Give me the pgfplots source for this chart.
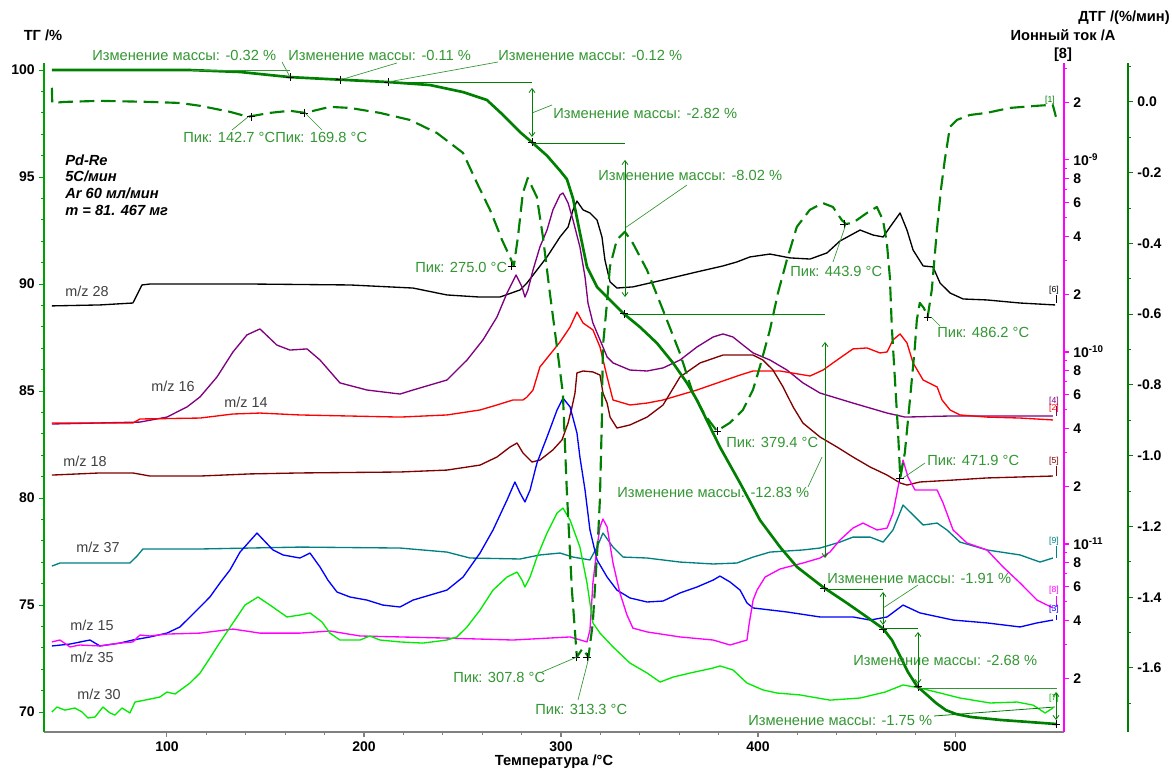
\documentclass[border=0pt]{standalone}
\usepackage{fontspec}
\setmainfont{Liberation Sans}
\usepackage{pgfplots}
\pgfplotsset{compat=1.18}
\usetikzlibrary{arrows.meta}
\definecolor{dg}{RGB}{0,128,0}
\definecolor{axg}{RGB}{0,160,0}
\definecolor{ag}{RGB}{50,150,50}
\definecolor{mzpurple}{RGB}{128,0,128}
\definecolor{mzred}{RGB}{255,0,0}
\definecolor{mzmaroon}{RGB}{128,0,0}
\definecolor{mzteal}{RGB}{0,128,128}
\definecolor{mzblue}{RGB}{0,0,255}
\definecolor{mzmag}{RGB}{255,0,255}
\definecolor{mzlime}{RGB}{0,235,0}
\definecolor{lblgray}{RGB}{64,64,64}
\newcommand{\annf}{\fontsize{11pt}{13pt}\selectfont}
\newcommand{\tickf}{\fontsize{10.5pt}{12pt}\selectfont\bfseries}
\newcommand{\smallf}{\fontsize{6.5pt}{7.5pt}\selectfont}
\pgfplotsset{
  base/.style={at={(33pt,29.25pt)}, anchor=south west, scale only axis,
    height=501.75pt, xmin=37.6, clip=false,
    /pgf/number format/assume math mode=true,
    tick label style={font=\tickf},
    tick align=outside, major tick length=3.5pt, minor tick length=2.2pt},
  ion/.style={line width=1pt, line join=round},
}
\tikzset{
  lead/.style={draw=ag, line width=0.5pt},
  lev/.style={draw=dg, line width=0.6pt},
  dar/.style={draw=dg, line width=0.6pt, arrows={Straight Barb[length=3pt,width=4.5pt]-Straight Barb[length=3pt,width=4.5pt]}},
  ann/.style={anchor=west, inner sep=0pt, text=ag, font=\annf},
}
\begin{document}
\begin{tikzpicture}
\useasboundingbox (0,0) rectangle (879pt,578.25pt);

% x axis
\begin{axis}[base, width=765pt, xmax=555.3, ymin=0, ymax=1, hide y axis,
  axis x line*=bottom, x axis line style={-, draw=gray, line width=1pt},
  tick style={gray, line width=0.8pt},
  xtick={100,200,300,400,500}, minor x tick num=4]
\end{axis}

% ion current axis (log10 of current in A)
\begin{axis}[base, width=765pt, xmax=555.3, ymin=-11.979, ymax=-8.495, hide x axis,
  axis y line*=right, y axis line style={-, draw=mzmag, line width=1pt},
  tick style={mzmag, line width=0.8pt},
  ytick={-11.699,-11.398,-11.222,-11.097,-11,-10.699,-10.398,-10.222,-10.097,-10,-9.699,-9.398,-9.222,-9.097,-9,-8.699},
  yticklabels={2,4,6,8,{10\textsuperscript{-11}},2,4,6,8,{10\textsuperscript{-10}},2,4,6,8,{10\textsuperscript{-9}},2},
  minor ytick={-11.523,-11.301,-11.155,-11.046,-10.523,-10.301,-10.155,-10.046,-9.523,-9.301,-9.155,-9.046,-8.523}]
% m/z 28
\addplot[ion, black] coordinates {(41.6,-9.760) (66.0,-9.755) (82.7,-9.745) (84.8,-9.703) (87.3,-9.651) (91.4,-9.646) (142.1,-9.646) (192.9,-9.651) (224.9,-9.667) (242.1,-9.703) (258.9,-9.714) (269.0,-9.714) (279.2,-9.677) (282.7,-9.641) (287.8,-9.573) (292.9,-9.505) (299.5,-9.401) (303.6,-9.349) (306.1,-9.260) (308.1,-9.214) (311.2,-9.260) (314.7,-9.276) (318.3,-9.313) (320.8,-9.401) (322.3,-9.521) (324.9,-9.635) (328.4,-9.667) (336.5,-9.661) (351.8,-9.625) (369.0,-9.583) (382.2,-9.552) (389.3,-9.531) (395.9,-9.505) (406.1,-9.490) (416.2,-9.510) (426.4,-9.516) (435.0,-9.484) (441.6,-9.422) (451.8,-9.365) (458.4,-9.391) (463.5,-9.401) (467.0,-9.349) (472.1,-9.276) (475.6,-9.365) (478.7,-9.469) (483.8,-9.552) (488.8,-9.557) (492.4,-9.641) (497.5,-9.693) (504.1,-9.724) (516.2,-9.729) (533.0,-9.745) (550.8,-9.755)};
% m/z 16
\addplot[ion, mzpurple] coordinates {(41.6,-10.375) (86.3,-10.365) (100.0,-10.339) (110.2,-10.286) (116.8,-10.234) (125.4,-10.130) (133.5,-10.000) (140.6,-9.911) (147.2,-9.880) (155.8,-9.964) (162.4,-9.990) (171.1,-9.984) (177.7,-10.042) (187.8,-10.161) (201.5,-10.198) (218.3,-10.219) (224.9,-10.198) (242.1,-10.146) (252.3,-10.042) (260.4,-9.937) (267.5,-9.818) (272.6,-9.693) (277.2,-9.599) (280.2,-9.661) (281.7,-9.714) (283.2,-9.677) (285.8,-9.573) (289.3,-9.453) (292.9,-9.365) (295.9,-9.260) (299.5,-9.182) (301.0,-9.172) (303.6,-9.224) (306.1,-9.313) (309.6,-9.453) (312.2,-9.609) (313.7,-9.745) (316.2,-9.849) (319.8,-9.937) (323.4,-10.026) (326.4,-10.057) (335.0,-10.094) (343.7,-10.099) (351.8,-10.083) (360.4,-10.042) (369.0,-9.974) (377.2,-9.922) (382.2,-9.906) (387.3,-9.922) (392.4,-9.964) (397.5,-10.005) (406.1,-10.042) (414.7,-10.094) (422.8,-10.161) (431.5,-10.214) (448.2,-10.266) (465.5,-10.318) (474.6,-10.339) (499.0,-10.333) (549.7,-10.333)};
% m/z 14
\addplot[ion, mzred] coordinates {(41.6,-10.370) (82.7,-10.370) (86.3,-10.349) (116.8,-10.344) (133.5,-10.323) (147.2,-10.318) (167.5,-10.328) (218.3,-10.339) (242.1,-10.328) (258.9,-10.302) (267.5,-10.276) (275.6,-10.250) (280.7,-10.250) (282.7,-10.235) (285.8,-10.198) (289.3,-10.078) (299.5,-9.948) (304.6,-9.870) (308.1,-9.792) (311.2,-9.849) (316.2,-9.885) (319.8,-9.974) (323.4,-10.130) (326.4,-10.250) (335.0,-10.276) (343.7,-10.266) (351.8,-10.250) (369.0,-10.198) (390.9,-10.120) (397.5,-10.099) (411.2,-10.099) (426.4,-10.125) (433.0,-10.094) (440.1,-10.042) (448.2,-9.984) (455.3,-9.979) (461.9,-10.005) (465.5,-10.000) (468.5,-9.937) (472.1,-9.906) (475.6,-9.953) (478.7,-10.057) (483.8,-10.146) (490.9,-10.182) (493.4,-10.250) (497.5,-10.302) (502.5,-10.328) (516.2,-10.339) (533.0,-10.344) (549.7,-10.354)};
% m/z 18
\addplot[ion, mzmaroon] coordinates {(41.6,-10.641) (66.0,-10.630) (82.7,-10.630) (91.4,-10.646) (116.8,-10.646) (142.1,-10.635) (167.5,-10.630) (218.3,-10.625) (242.1,-10.615) (258.9,-10.589) (267.5,-10.547) (274.1,-10.495) (277.7,-10.474) (280.7,-10.526) (285.3,-10.573) (289.3,-10.563) (295.9,-10.510) (300.5,-10.458) (303.6,-10.370) (305.6,-10.286) (307.1,-10.214) (308.1,-10.109) (311.2,-10.099) (316.2,-10.104) (319.8,-10.120) (321.3,-10.214) (323.4,-10.266) (324.9,-10.339) (328.4,-10.396) (335.0,-10.380) (343.7,-10.339) (351.8,-10.276) (360.4,-10.130) (370.6,-10.057) (382.2,-10.016) (397.5,-10.016) (402.5,-10.042) (407.6,-10.094) (412.7,-10.182) (417.8,-10.286) (422.8,-10.370) (431.5,-10.443) (440.1,-10.495) (448.2,-10.547) (456.9,-10.599) (465.5,-10.641) (472.1,-10.682) (475.6,-10.693) (482.2,-10.677) (499.0,-10.667) (516.2,-10.656) (533.0,-10.651) (549.7,-10.646)};
% m/z 37
\addplot[ion, mzteal] coordinates {(41.6,-11.115) (45.7,-11.099) (81.2,-11.099) (84.8,-11.063) (87.8,-11.026) (116.8,-11.026) (167.5,-11.016) (218.3,-11.021) (242.1,-11.042) (253.8,-11.073) (279.2,-11.078) (289.3,-11.057) (299.5,-11.047) (306.1,-11.068) (314.7,-11.083) (318.3,-11.016) (321.3,-10.943) (326.4,-11.016) (331.5,-11.068) (343.7,-11.073) (360.4,-11.094) (377.2,-11.104) (389.3,-11.099) (397.5,-11.068) (406.1,-11.042) (422.8,-11.031) (431.5,-11.021) (441.6,-10.990) (448.2,-10.964) (456.9,-10.964) (463.5,-10.990) (468.5,-10.927) (473.6,-10.797) (478.7,-10.849) (483.8,-10.901) (490.9,-10.891) (495.9,-10.927) (502.5,-10.990) (516.2,-11.031) (533.0,-11.057) (543.1,-11.094) (549.7,-11.073)};
% m/z 15
\addplot[ion, mzblue] coordinates {(41.6,-11.531) (50.8,-11.521) (60.9,-11.500) (66.0,-11.531) (76.1,-11.516) (82.7,-11.500) (91.4,-11.484) (100.0,-11.464) (106.6,-11.432) (111.7,-11.380) (116.8,-11.328) (121.8,-11.276) (126.9,-11.203) (132.0,-11.135) (137.1,-11.042) (145.7,-10.943) (153.8,-11.031) (158.9,-11.057) (167.5,-11.073) (172.6,-11.047) (177.7,-11.120) (181.7,-11.188) (186.3,-11.250) (192.9,-11.276) (201.5,-11.292) (209.6,-11.318) (218.3,-11.328) (224.9,-11.292) (242.1,-11.240) (250.3,-11.172) (258.9,-11.047) (265.5,-10.927) (272.6,-10.771) (276.6,-10.677) (279.2,-10.734) (281.7,-10.781) (284.3,-10.719) (287.8,-10.578) (292.9,-10.443) (298.0,-10.302) (301.0,-10.240) (304.6,-10.286) (308.1,-10.422) (309.6,-10.547) (312.2,-10.719) (314.7,-10.927) (318.3,-11.083) (323.4,-11.172) (328.4,-11.240) (335.0,-11.281) (343.7,-11.302) (351.8,-11.297) (360.4,-11.255) (369.0,-11.224) (377.2,-11.188) (380.7,-11.167) (385.8,-11.198) (390.9,-11.240) (394.4,-11.307) (397.5,-11.333) (414.7,-11.354) (431.5,-11.380) (448.2,-11.380) (456.9,-11.396) (465.5,-11.380) (473.6,-11.318) (482.2,-11.359) (499.0,-11.396) (516.2,-11.411) (533.0,-11.432) (541.6,-11.411) (549.7,-11.396)};
% m/z 35
\addplot[ion, mzmag] coordinates {(41.6,-11.510) (45.7,-11.500) (50.8,-11.536) (55.8,-11.526) (66.0,-11.531) (76.1,-11.516) (82.7,-11.510) (86.3,-11.474) (91.4,-11.479) (100.0,-11.469) (116.8,-11.464) (133.5,-11.443) (147.2,-11.464) (167.5,-11.464) (182.7,-11.453) (198.0,-11.479) (218.3,-11.484) (242.1,-11.490) (275.6,-11.500) (304.6,-11.484) (313.2,-11.510) (314.7,-11.448) (316.2,-11.203) (318.3,-11.016) (319.8,-10.911) (321.3,-10.870) (323.4,-10.911) (326.4,-11.099) (329.9,-11.255) (333.5,-11.370) (336.5,-11.438) (343.7,-11.458) (360.4,-11.484) (377.2,-11.500) (385.8,-11.526) (394.4,-11.500) (395.4,-11.422) (397.5,-11.292) (399.5,-11.240) (403.6,-11.172) (411.2,-11.130) (422.8,-11.099) (431.5,-11.073) (436.5,-11.042) (441.6,-10.979) (448.2,-10.917) (453.3,-10.891) (460.4,-10.927) (465.5,-10.917) (468.5,-10.839) (471.1,-10.703) (473.6,-10.563) (476.1,-10.651) (479.7,-10.719) (490.9,-10.719) (493.9,-10.786) (499.0,-10.927) (506.1,-10.995) (516.2,-11.031) (524.4,-11.120) (533.0,-11.203) (541.6,-11.292) (549.7,-11.333)};
% m/z 30
\addplot[ion, mzlime] coordinates {(41.6,-11.875) (44.2,-11.849) (48.2,-11.865) (53.3,-11.854) (56.9,-11.875) (59.9,-11.906) (63.5,-11.901) (67.5,-11.849) (71.1,-11.880) (73.6,-11.891) (77.2,-11.854) (81.2,-11.880) (83.8,-11.823) (88.8,-11.813) (96.4,-11.797) (100.0,-11.771) (104.1,-11.781) (111.7,-11.724) (116.8,-11.672) (121.8,-11.594) (125.4,-11.536) (129.4,-11.474) (134.5,-11.396) (139.6,-11.318) (146.2,-11.276) (152.3,-11.318) (160.9,-11.380) (167.5,-11.370) (172.6,-11.359) (178.7,-11.406) (182.7,-11.464) (187.8,-11.500) (198.0,-11.500) (203.0,-11.479) (208.1,-11.500) (218.3,-11.510) (229.9,-11.516) (242.1,-11.500) (247.2,-11.484) (252.3,-11.432) (258.9,-11.344) (265.5,-11.240) (272.6,-11.172) (277.7,-11.146) (280.2,-11.188) (281.7,-11.224) (284.3,-11.172) (287.8,-11.068) (292.9,-10.943) (298.0,-10.839) (301.0,-10.813) (304.6,-10.875) (309.6,-11.016) (313.2,-11.203) (316.2,-11.411) (319.8,-11.464) (326.4,-11.536) (335.0,-11.620) (343.7,-11.672) (350.3,-11.719) (356.9,-11.693) (365.5,-11.672) (377.2,-11.646) (380.7,-11.635) (387.3,-11.656) (394.4,-11.724) (402.5,-11.760) (409.6,-11.776) (421.3,-11.786) (436.5,-11.813) (451.8,-11.802) (464.5,-11.771) (473.6,-11.734) (482.2,-11.750) (492.4,-11.776) (502.5,-11.802) (517.8,-11.828) (531.5,-11.823) (539.6,-11.839) (545.7,-11.880) (549.7,-11.854)};
\end{axis}

% DTG axis
\begin{axis}[base, width=813pt, xmax=587.9, ymin=-1.781, ymax=0.110, hide x axis,
  axis y line*=right, y axis line style={-, draw=dg, line width=1pt},
  tick style={dg, line width=0.8pt},
  ytick={-1.6,-1.4,-1.2,-1.0,-0.8,-0.6,-0.4,-0.2,0},
  yticklabels={-1.6,-1.4,-1.2,-1.0,-0.8,-0.6,-0.4,-0.2,0.0},
  minor ytick={-1.7,-1.5,-1.3,-1.1,-0.9,-0.7,-0.5,-0.3,-0.1,0.1}]
\addplot[dg, line width=1.6pt, line join=round, dash pattern=on 11pt off 5pt] coordinates {(41.6,0.040) (41.8,-0.003) (48.2,0.0) (66.0,0.003) (91.4,0.0) (106.6,-0.003) (116.8,-0.011) (132.0,-0.028) (141.1,-0.042) (152.3,-0.031) (162.4,-0.025) (170.1,-0.031) (182.7,-0.014) (192.9,-0.017) (208.1,-0.031) (223.4,-0.051) (237.1,-0.088) (250.3,-0.144) (257.9,-0.235) (264.0,-0.305) (267.5,-0.353) (270.1,-0.390) (274.1,-0.438) (276.1,-0.464) (278.2,-0.382) (280.7,-0.257) (283.2,-0.215) (287.8,-0.269) (290.9,-0.382) (294.4,-0.540) (298.0,-0.693) (301.0,-0.823) (303.0,-1.097) (305.6,-1.380) (307.1,-1.493) (308.1,-1.569) (311.0,-1.545) (314.0,-1.569) (316.2,-1.473) (318.8,-1.238) (319.8,-1.125) (320.8,-0.899) (321.3,-0.693) (323.4,-0.568) (324.9,-0.466) (328.4,-0.390) (332.5,-0.367) (336.5,-0.399) (343.7,-0.475) (351.8,-0.588) (360.4,-0.710) (367.0,-0.823) (373.1,-0.885) (379.2,-0.930) (385.8,-0.907) (392.4,-0.871) (397.5,-0.814) (401.0,-0.749) (406.1,-0.645) (410.2,-0.540) (414.7,-0.447) (419.8,-0.353) (426.4,-0.305) (433.0,-0.286) (438.1,-0.297) (442.6,-0.334) (444.7,-0.345) (448.2,-0.342) (455.3,-0.314) (460.4,-0.297) (463.5,-0.334) (465.5,-0.399) (467.0,-0.495) (468.0,-0.636) (469.5,-0.777) (471.1,-0.927) (472.3,-1.063) (474.6,-0.992) (477.2,-0.842) (479.7,-0.693) (480.7,-0.616) (482.2,-0.568) (484.3,-0.583) (486.2,-0.608) (488.3,-0.531) (490.9,-0.362) (492.9,-0.249) (494.9,-0.164) (497.5,-0.071) (501.0,-0.051) (507.6,-0.037) (516.2,-0.031) (527.9,-0.017) (541.6,-0.011) (549.7,-0.008) (551.3,-0.042)};
\addplot[only marks, mark=+, mark size=3pt, black, mark options={line width=0.5pt}] coordinates {(142.7,-0.042) (169.8,-0.031) (275.0,-0.464) (307.8,-1.569) (313.3,-1.569) (379.4,-0.930) (443.9,-0.345) (471.9,-1.063) (486.2,-0.608)};
\end{axis}

% TG axis
\begin{axis}[base, width=765pt, xmax=555.3, ymin=69.07, ymax=100.33, hide x axis,
  axis y line*=left, y axis line style={-, draw=axg, line width=1pt},
  tick style={axg, line width=0.8pt},
  ytick={70,75,80,85,90,95,100}, minor y tick num=4]
\addplot[dg, line width=2pt, line join=round] coordinates {(41.6,100.0) (111.7,100.0) (137.1,99.91) (162.4,99.67) (187.8,99.55) (212.2,99.44) (233.5,99.30) (250.3,98.97) (262.4,98.60) (270.6,97.90) (279.2,97.10) (285.3,96.62) (292.9,96.0) (299.5,95.3) (303.0,94.9) (306.1,94.0) (309.6,92.4) (313.2,90.8) (318.3,89.86) (323.4,89.39) (331.5,88.64) (340.1,87.99) (348.7,87.24) (356.9,86.31) (364.0,85.37) (369.0,84.58) (380.7,82.38) (390.9,80.70) (401.0,78.97) (411.2,77.71) (419.8,76.78) (433.0,75.84) (445.2,75.09) (455.3,74.44) (463.5,73.90) (468.0,73.36) (472.1,72.62) (476.1,71.87) (480.7,71.21) (485.3,70.84) (490.4,70.42) (495.4,70.09) (500.5,69.91) (508.1,69.77) (523.4,69.63) (538.6,69.53) (551.8,69.44)};
\addplot[only marks, mark=+, mark size=3pt, black, mark options={line width=0.5pt}] coordinates {(162.4,99.67) (187.8,99.55) (212.2,99.44) (285.3,96.62) (332.0,88.61) (433.5,75.78) (463.5,73.87) (481.2,71.19) (551.3,69.44)};
\end{axis}

% annotations in pixel coordinates
\begin{scope}[shift={(0pt,578.25pt)}, x=0.75pt, y=-0.75pt]
% titles
\node[font=\fontsize{11pt}{13pt}\selectfont\bfseries, inner sep=0pt] at (43,35) {ТГ /\%};
\node[font=\fontsize{11pt}{13pt}\selectfont\bfseries, inner sep=0pt, anchor=east] at (1170,18) {ДТГ /(\%/мин)};
\node[font=\fontsize{11pt}{13pt}\selectfont\bfseries, inner sep=0pt] at (1063,35) {Ионный ток /А};
\node[font=\fontsize{11pt}{13pt}\selectfont\bfseries, inner sep=0pt] at (1063,55) {[8]};
\node[font=\fontsize{11pt}{13pt}\selectfont\bfseries, inner sep=0pt] at (554,762) {Температура /°C};
% sample info
\begin{scope}[every node/.style={anchor=west, inner sep=0pt, font=\fontsize{11pt}{13pt}\selectfont\bfseries\itshape}]
\node at (65,160) {Pd-Re};
\node at (65,176) {5C/мин};
\node at (65,193) {Ar 60 мл/мин};
\node at (65,210) {m = 81. 467 мг};
\end{scope}
% m/z labels
\begin{scope}[every node/.style={inner sep=0pt, text=lblgray, font=\fontsize{10.8pt}{12pt}\selectfont}]
\node at (87,291) {m/z 28};
\node at (173,386) {m/z 16};
\node at (246,402) {m/z 14};
\node at (85,461) {m/z 18};
\node at (98,547) {m/z 37};
\node at (92,625) {m/z 15};
\node at (92,657) {m/z 35};
\node at (99,694) {m/z 30};
\end{scope}
% end labels
\begin{scope}[every node/.style={inner sep=0pt, font=\smallf}]
\node[text=dg] at (1050,100) {[1]};
\draw[black, line width=0.5pt] (1056,303) -- (1056,295); \node at (1054,290) {[6]};
\draw[mzpurple, line width=0.5pt] (1056,416) -- (1056,406); \node[text=mzpurple] at (1054,401) {[4]};
\node[text=mzred] at (1054,408) {[2]};
\draw[mzmaroon, line width=0.5pt] (1056,476) -- (1056,466); \node[text=mzmaroon] at (1054,461) {[5]};
\draw[mzteal, line width=0.5pt] (1056,558) -- (1056,546); \node[text=mzteal] at (1054,541) {[9]};
\draw[mzmag, line width=0.5pt] (1056,607) -- (1056,596); \node[text=mzmag] at (1054,590) {[8]};
\draw[mzblue, line width=0.5pt] (1056,620) -- (1056,615); \node[text=mzblue] at (1054,609) {[3]};
\node[text=mzlime!80!black] at (1054,698) {[7]};
\end{scope}
% mass change annotations
\node[ann] at (92,55) {Изменение массы: -0.32 \%};
\node[ann] at (288,55) {Изменение массы: -0.11 \%};
\node[ann] at (498,55) {Изменение массы: -0.12 \%};
\node[ann] at (553,113) {Изменение массы: -2.82 \%};
\node[ann] at (598,175) {Изменение массы: -8.02 \%};
\node[ann] at (617,492) {Изменение массы: -12.83 \%};
\node[ann] at (827,578) {Изменение массы: -1.91 \%};
\node[ann] at (853,660) {Изменение массы: -2.68 \%};
\node[ann] at (748,720) {Изменение массы: -1.75 \%};
\draw[lead] (282,62) -- (290,77);
\draw[lead] (397,63) -- (340,80);
\draw[lead] (498,62) -- (388,82);
\draw[lead] (532,113) -- (552,105);
\draw[lead] (625,228) -- (687,185);
\draw[lead] (822,457) -- (808,487);
\draw[lead] (883,608) -- (918,585);
\draw[lev] (934,716) -- (1055,707);
\draw[lead] (192,70) -- (290,70);
\draw[lev] (388,82) -- (532,82);
\draw[lev] (532,143) -- (625,143);
\draw[lev] (624,314) -- (825,314);
\draw[lev] (824,589) -- (883,589);
\draw[lev] (883,628) -- (918,628);
\draw[lead] (918,688) -- (1057,688);
\draw[dar] (532,88) -- (532,137);
\draw[dar] (625,160) -- (625,297);
\draw[dar] (825,342) -- (825,558);
\draw[dar] (883,592) -- (883,625);
\draw[dar] (918,632) -- (918,684);
\draw[dar] (1056,692) -- (1056,720);
% peak annotations
\node[ann] at (183,137) {Пик: 142.7 °C};
\node[ann] at (275,137) {Пик: 169.8 °C};
\node[ann] at (415,267) {Пик: 275.0 °C};
\node[ann] at (453,677) {Пик: 307.8 °C};
\node[ann] at (535,709) {Пик: 313.3 °C};
\node[ann] at (726,442) {Пик: 379.4 °C};
\node[ann] at (790,271) {Пик: 443.9 °C};
\node[ann] at (927,460) {Пик: 471.9 °C};
\node[ann] at (937,332) {Пик: 486.2 °C};
\draw[lead] (248,117) -- (232,130);
\draw[lead] (305,113) -- (322,130);
\draw[lead] (577,657) -- (542,672);
\draw[lead] (589,657) -- (578,700);
\draw[lead] (846,224) -- (833,262);
\draw[lead] (903,478) -- (925,463);
\draw[lead] (931,317) -- (940,326);
\end{scope}
\end{tikzpicture}
\end{document}
